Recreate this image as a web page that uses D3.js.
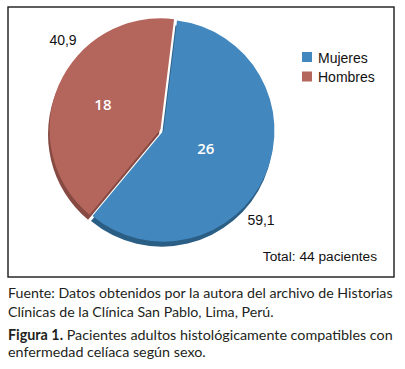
<!DOCTYPE html>
<html>
<head>
<meta charset="utf-8">
<script src="https://cdn.jsdelivr.net/npm/d3@7"></script>
<style>
  body { margin: 0; background: #fff; }
  svg { display: block; }
</style>
</head>
<body>
<div id="chart"></div>
<script>
const categories = ["Mujeres", "Hombres"];
const counts = [26, 18];
const percentLabels = ["59,1", "40,9"];
const totalLabel = "Total: 44 pacientes";
const sourceLines = [
  "Fuente: Datos obtenidos por la autora del archivo de Historias",
  "Clínicas de la Clínica San Pablo, Lima, Perú."
];
const figureTitle = "Figura 1.";
const figureLines = [
  " Pacientes adultos histológicamente compatibles con",
  "enfermedad celíaca según sexo."
];

const W = 405, H = 369;
const topColors = ["#4287bd", "#b5665c"];
const sideColors = ["#2b5e85", "#874a43"];
const chartFont = "'Liberation Sans', Arial, sans-serif";
const captionFont = "Lato, 'Open Sans', sans-serif";

const svg = d3.select("#chart")
  .append("svg")
  .attr("width", W)
  .attr("height", H);

svg.append("rect")
  .attr("width", W)
  .attr("height", H)
  .attr("fill", "#fff");

// frame
svg.append("rect")
  .attr("x", 8)
  .attr("y", 7)
  .attr("width", 386)
  .attr("height", 270)
  .attr("fill", "none")
  .attr("stroke", "#1a1a1a")
  .attr("stroke-width", 1.4);

// =====================
// PIE
// =====================
const cx = 162, cy = 130, r = 111;
const startDeg = 7;

const pie = d3.pie()
  .sort(null)
  .startAngle(startDeg * Math.PI / 180)
  .endAngle((startDeg + 360) * Math.PI / 180);

const slices = pie(counts);
const arc = d3.arc().innerRadius(0).outerRadius(r);

const explode = 1.6;
function offset(d, k) {
  const a = (d.startAngle + d.endAngle) / 2;
  return [Math.sin(a) * k, -Math.cos(a) * k];
}

const g = svg.append("g")
  .attr("transform", `translate(${cx},${cy})`);

// side / depth
g.selectAll(".side")
  .data(slices)
  .enter()
  .append("path")
  .attr("class", "side")
  .attr("d", arc)
  .attr("fill", (d, i) => sideColors[i])
  .attr("transform", d => {
    const o = offset(d, explode);
    return `translate(${o[0] - 1.5},${o[1] + 5})`;
  });

// top faces
g.selectAll(".top")
  .data(slices)
  .enter()
  .append("path")
  .attr("class", "top")
  .attr("d", arc)
  .attr("fill", (d, i) => topColors[i])
  .attr("transform", d => {
    const o = offset(d, explode);
    return `translate(${o[0]},${o[1]})`;
  });

// count labels inside
const innerK = [0.43, 0.58];
g.selectAll(".count")
  .data(slices)
  .enter()
  .append("text")
  .attr("class", "count")
  .attr("x", (d, i) => offset(d, r * innerK[i])[0])
  .attr("y", (d, i) => offset(d, r * innerK[i])[1] + 5.5)
  .attr("text-anchor", "middle")
  .style("font-family", "'Open Sans', sans-serif")
  .style("font-size", "15px")
  .style("font-weight", "600")
  .style("fill", "#fff")
  .text(d => d.data);

// percentage labels outside
const shift = 19 * Math.PI / 180;
g.selectAll(".pct")
  .data(slices)
  .enter()
  .append("text")
  .attr("class", "pct")
  .attr("x", d => {
    const a = (d.startAngle + d.endAngle) / 2 + shift;
    return Math.sin(a) * 134;
  })
  .attr("y", d => {
    const a = (d.startAngle + d.endAngle) / 2 + shift;
    return -Math.cos(a) * 134 + 5;
  })
  .attr("text-anchor", "middle")
  .style("font-family", chartFont)
  .style("font-size", "14px")
  .style("fill", "#111")
  .text((d, i) => percentLabels[i]);

// =====================
// LEGEND
// =====================
const legend = svg.append("g")
  .attr("transform", "translate(302,52)");

const item = legend.selectAll(".item")
  .data(categories)
  .enter()
  .append("g")
  .attr("transform", (d, i) => `translate(0,${i * 19.5})`);

item.append("rect")
  .attr("width", 10)
  .attr("height", 10)
  .attr("fill", (d, i) => topColors[i]);

item.append("text")
  .attr("x", 16)
  .attr("y", 10.5)
  .style("font-family", chartFont)
  .style("font-size", "14px")
  .style("fill", "#111")
  .text(d => d);

svg.append("text")
  .attr("x", 377)
  .attr("y", 261)
  .attr("text-anchor", "end")
  .style("font-family", chartFont)
  .style("font-size", "13.7px")
  .style("fill", "#111")
  .text(totalLabel);

// =====================
// CAPTION
// =====================
function fit(sel, target) {
  let size = 14;
  sel.style("font-size", size + "px");
  const w = sel.node().getComputedTextLength();
  size = size * target / w;
  sel.style("font-size", size + "px");
  return size;
}

const cap1 = svg.append("text")
  .attr("x", 8)
  .attr("y", 298)
  .style("font-family", captionFont)
  .style("fill", "#231f20")
  .text(sourceLines[0]);
const capSize = fit(cap1, 385);

svg.append("text")
  .attr("x", 8)
  .attr("y", 316.5)
  .style("font-family", captionFont)
  .style("font-size", capSize + "px")
  .style("fill", "#231f20")
  .text(sourceLines[1]);

const fig1 = svg.append("text")
  .attr("x", 8)
  .attr("y", 340)
  .style("font-family", captionFont)
  .style("fill", "#231f20");
fig1.append("tspan")
  .style("font-weight", "bold")
  .text(figureTitle);
fig1.append("tspan")
  .text(figureLines[0]);
const figSize = fit(fig1, 385);

svg.append("text")
  .attr("x", 8)
  .attr("y", 356.5)
  .style("font-family", captionFont)
  .style("font-size", figSize + "px")
  .style("fill", "#231f20")
  .text(figureLines[1]);
</script>
</body>
</html>
